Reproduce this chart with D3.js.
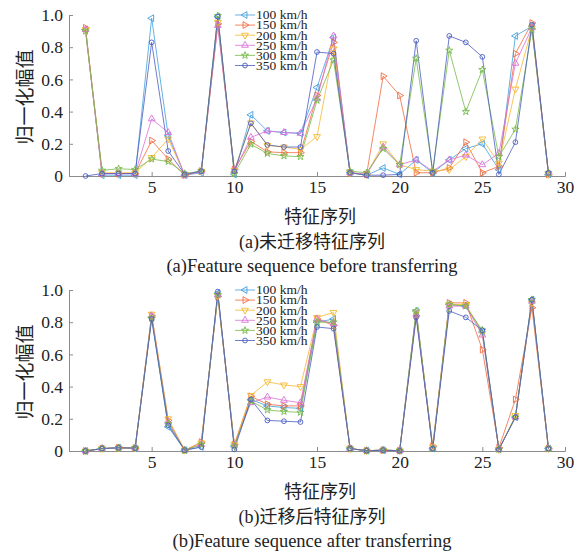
<!DOCTYPE html>
<html><head><meta charset="utf-8">
<script src="https://cdn.jsdelivr.net/npm/d3@7"></script>
<style>
body{margin:0;background:#fff;}
text{font-family:"Liberation Serif","Times New Roman","Noto Sans CJK SC",serif;}
.cjk{font-family:"Liberation Serif","Noto Sans CJK SC",serif;}
</style></head>
<body><svg id="c" width="587" height="555"></svg>
<script>
const positions = d3.range(1, 30);
const seriesNames = ["100 km/h","150 km/h","200 km/h","250 km/h","300 km/h","350 km/h"];
const xTicks = [5,10,15,20,25,30];
const yTicks = [0,0.2,0.4,0.6,0.8,1.0];

// (a) before transferring
const before100 = [0.91,0.005,0.005,0.005,0.98,0.25,0.005,0.02,0.99,0.01,0.38,0.28,0.27,0.265,0.55,0.86,0.02,0.005,0.05,0.01,0.10,0.02,0.10,0.17,0.20,0.04,0.87,0.93,0.01];
const before150 = [0.92,0.015,0.015,0.015,0.22,0.105,0.005,0.03,0.945,0.04,0.215,0.15,0.145,0.145,0.50,0.83,0.02,0.01,0.62,0.50,0.02,0.02,0.05,0.21,0.02,0.06,0.76,0.95,0.01];
const before200 = [0.91,0.02,0.02,0.02,0.115,0.23,0.01,0.03,0.955,0.035,0.33,0.19,0.18,0.165,0.245,0.79,0.02,0.01,0.20,0.07,0.04,0.03,0.04,0.12,0.23,0.08,0.54,0.92,0.01];
const before250 = [0.91,0.015,0.015,0.015,0.355,0.27,0.005,0.03,0.935,0.03,0.24,0.28,0.27,0.265,0.48,0.87,0.02,0.01,0.18,0.07,0.10,0.03,0.10,0.13,0.07,0.14,0.70,0.92,0.015];
const before300 = [0.90,0.035,0.045,0.04,0.105,0.09,0.015,0.03,0.995,0.015,0.197,0.14,0.125,0.12,0.47,0.72,0.03,0.02,0.17,0.07,0.73,0.03,0.78,0.40,0.66,0.12,0.29,0.91,0.02];
const before350 = [0.0,0.015,0.015,0.015,0.83,0.155,0.01,0.03,0.99,0.03,0.327,0.193,0.18,0.18,0.77,0.76,0.02,0.005,0.005,0.01,0.84,0.02,0.87,0.83,0.74,0.01,0.21,0.94,0.02];

// (b) after transferring
const after100 = [0,0.015,0.02,0.018,0.83,0.15,0.005,0.025,0.98,0.03,0.32,0.28,0.27,0.265,0.80,0.82,0.015,0.002,0.005,0.002,0.87,0.015,0.91,0.90,0.74,0.01,0.21,0.94,0.015];
const after150 = [0,0.015,0.02,0.018,0.84,0.19,0.005,0.055,0.96,0.04,0.34,0.29,0.28,0.28,0.82,0.78,0.015,0.002,0.005,0.002,0.84,0.03,0.92,0.92,0.63,0.02,0.32,0.89,0.015];
const after200 = [0,0.015,0.02,0.018,0.85,0.20,0.005,0.05,0.965,0.04,0.345,0.43,0.41,0.40,0.83,0.86,0.015,0.002,0.005,0.002,0.86,0.025,0.91,0.91,0.73,0.01,0.22,0.92,0.015];
const after250 = [0,0.015,0.02,0.018,0.84,0.18,0.005,0.04,0.97,0.035,0.30,0.335,0.315,0.30,0.82,0.79,0.015,0.002,0.005,0.002,0.85,0.015,0.90,0.90,0.72,0.01,0.21,0.93,0.015];
const after300 = [0,0.015,0.02,0.018,0.825,0.17,0.005,0.04,0.97,0.03,0.31,0.255,0.245,0.24,0.80,0.80,0.015,0.002,0.005,0.002,0.87,0.015,0.91,0.90,0.75,0.01,0.21,0.94,0.015];
const after350 = [0,0.015,0.02,0.018,0.82,0.16,0.005,0.025,0.99,0.01,0.32,0.19,0.185,0.18,0.77,0.76,0.015,0.002,0.005,0.002,0.83,0.015,0.87,0.83,0.75,0.01,0.21,0.94,0.015];

const colors = ["#3f9ee0","#f06a3e","#f5b82e","#d870d8","#76ba48","#4a5cc0"];
const markers = ["left","right","down","up","star","circle"];

const svg = d3.select("#c");

function markerPath(type){
  if(type==="star") return d3.symbol(d3.symbolStar, 16)();
  if(type==="circle") return d3.symbol(d3.symbolCircle, 18)();
  return d3.symbol(d3.symbolTriangle, 20)();
}
function markerRot(type){
  return {left:-90,right:90,down:180,up:0,star:0,circle:0}[type];
}

function drawPanel(top, series, xl1, xl2){
  const x = d3.scaleLinear().domain([0,30]).range([69,565]);
  const y = d3.scaleLinear().domain([0,1]).range([top+161, top]);
  const g = svg.append("g");
  const xa = g.append("g").attr("transform",`translate(0,${top+161})`)
    .call(d3.axisBottom(x).tickValues(xTicks).tickSize(-4).tickPadding(5).tickFormat(d3.format("d")));
  const ya = g.append("g").attr("transform",`translate(69,0)`)
    .call(d3.axisLeft(y).tickValues(yTicks).tickSize(-4).tickPadding(6).tickFormat(d=>d===0?"0":d3.format(".1f")(d)));
  [xa,ya].forEach(a=>{
    a.attr("font-family",null);
    a.select(".domain").attr("stroke","#8c8c8c").attr("stroke-width",1);
    a.selectAll(".tick line").attr("stroke","#8c8c8c");
    a.selectAll("text").attr("fill","#222").style("font-size","17.5px").style("font-family","'Liberation Serif',serif");
  });
  const line = d3.line().x((d,i)=>x(positions[i])).y(d=>y(d));
  series.forEach((s,k)=>{
    g.append("path").datum(s).attr("d",line).attr("fill","none")
      .attr("stroke",colors[k]).attr("stroke-width",0.8);
  });
  series.forEach((s,k)=>{
    g.append("g").selectAll("path").data(s).join("path")
      .attr("d",markerPath(markers[k]))
      .attr("transform",(d,i)=>`translate(${x(positions[i])},${y(d)}) rotate(${markerRot(markers[k])})`)
      .attr("fill","none").attr("stroke",colors[k]).attr("stroke-width",0.9);
  });
  const lg = g.append("g");
  seriesNames.forEach((n,k)=>{
    const yy = top + k*10.1;
    lg.append("line").attr("x1",235).attr("x2",255).attr("y1",yy).attr("y2",yy)
      .attr("stroke",colors[k]).attr("stroke-width",0.8);
    lg.append("path").attr("d",markerPath(markers[k]))
      .attr("transform",`translate(245,${yy}) rotate(${markerRot(markers[k])})`)
      .attr("fill","none").attr("stroke",colors[k]).attr("stroke-width",0.9);
    lg.append("text").attr("x",256).attr("y",yy+4.3).text(n)
      .style("font-size","13.5px").attr("fill","#222");
  });
  const yl = g.append("text").attr("class","cjk")
    .style("font-size","19px").attr("fill","#222").text("归一化幅值");
  const len = yl.node().getComputedTextLength();
  yl.attr("transform",`translate(32,${top+82}) rotate(-90)`).attr("x",-len/2).attr("y",0);

  g.append("text").attr("class","cjk").attr("x",320).attr("y",top+208)
    .attr("text-anchor","middle").style("font-size","18px").attr("fill","#222").text("特征序列");
  g.append("text").attr("class","cjk").attr("x",312).attr("y",top+233)
    .attr("text-anchor","middle").style("font-size","18px").attr("fill","#222").text(xl1);
  g.append("text").attr("x",312).attr("y",top+257)
    .attr("text-anchor","middle").style("font-size","18.5px").attr("fill","#222").text(xl2);
}

drawPanel(15, [before100,before150,before200,before250,before300,before350],
  "(a)未迁移特征序列","(a)Feature sequence before transferring");
drawPanel(290, [after100,after150,after200,after250,after300,after350],
  "(b)迁移后特征序列","(b)Feature sequence after transferring");
</script></body></html>
